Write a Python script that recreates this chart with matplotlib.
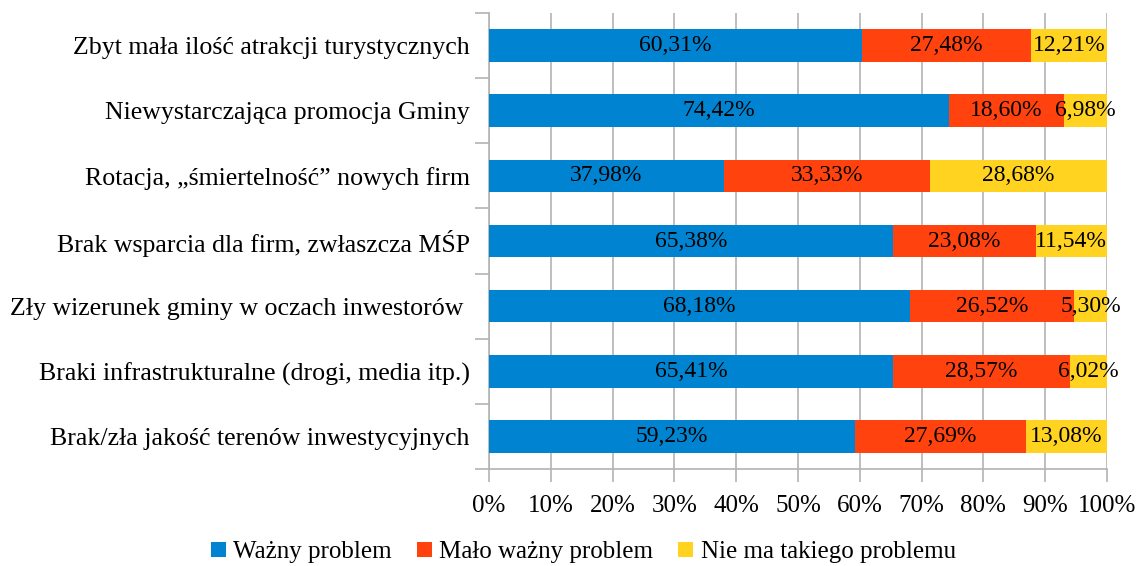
import matplotlib.pyplot as plt
import numpy as np

plt.rcParams['font.family'] = ['Liberation Serif', 'DejaVu Serif']

categories = ["Zbyt mała ilość atrakcji turystycznych",
              "Niewystarczająca promocja Gminy",
              "Rotacja, „śmiertelność” nowych firm",
              "Brak wsparcia dla firm, zwłaszcza MŚP",
              "Zły wizerunek gminy w oczach inwestorów ",
              "Braki infrastrukturalne (drogi, media itp.)",
              "Brak/zła jakość terenów inwestycyjnych"]
wazny = [60.31, 74.42, 37.98, 65.38, 68.18, 65.41, 59.23]
malo = [27.48, 18.60, 33.33, 23.08, 26.52, 28.57, 27.69]
nie_ma = [12.21, 6.98, 28.68, 11.54, 5.30, 6.02, 13.08]
series = ["Ważny problem", "Mało ważny problem", "Nie ma takiego problemu"]
colors = ["#0084D1", "#FF420E", "#FFD320"]

fig = plt.figure(figsize=(11.44, 5.66), dpi=100)
ax = fig.add_axes([0.4274, 0.1714, 0.5402, 0.8056])

y = np.arange(len(categories))
left = np.zeros(len(categories))
for vals, name, col in zip([wazny, malo, nie_ma], series, colors):
    vals = np.array(vals)
    ax.barh(y, vals, left=left, height=0.5, color=col, label=name, zorder=3)
    for yi, l, v in zip(y, left, vals):
        ax.text(l + v / 2, yi, f"{v:.2f}%".replace(".", ","), ha="center", va="center",
                fontsize=17, color="black", zorder=4)
    left += vals

ax.set_xlim(0, 100)
ax.set_ylim(len(categories) - 0.5, -0.5)
ax.set_xticks(np.arange(0, 101, 10))
ax.set_xticklabels([f"{v}%" for v in range(0, 101, 10)], fontsize=18)
ax.set_yticks(y)
ax.set_yticklabels(categories, fontsize=18.6)
ax.set_yticks(np.arange(-0.5, len(categories), 1), minor=True)
ax.tick_params(axis="y", which="major", length=0, pad=14)
ax.tick_params(axis="y", which="minor", length=10, color="#b3b3b3", width=1.2)
ax.tick_params(axis="x", length=9, color="#b3b3b3", width=1.2, pad=10)
ax.grid(axis="x", color="#b3b3b3", linewidth=1.2, zorder=0)
for s in ["top", "right"]:
    ax.spines[s].set_visible(False)
ax.spines["left"].set_color("#b3b3b3")
ax.spines["bottom"].set_color("#b3b3b3")
ax.spines["left"].set_linewidth(1.2)
ax.spines["bottom"].set_linewidth(1.2)

fig.legend(loc="lower center", ncol=3, frameon=False, fontsize=18,
           bbox_to_anchor=(0.51, -0.035), handlelength=0.6, handleheight=0.6,
           handletextpad=0.3, columnspacing=1.0)

fig.savefig("out.png", dpi=100)
